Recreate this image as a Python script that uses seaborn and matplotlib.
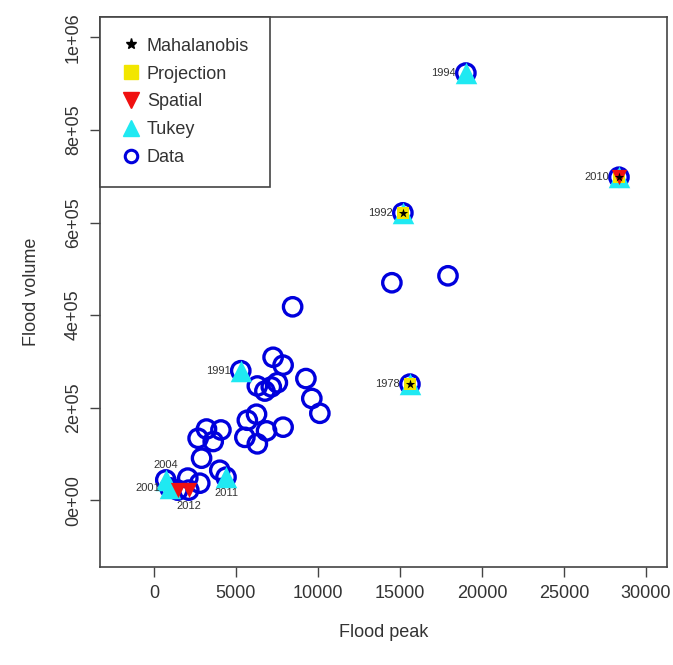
import numpy as np
import pandas as pd
import matplotlib
matplotlib.use('Agg')
import matplotlib.pyplot as plt
from matplotlib.lines import Line2D
from matplotlib.ticker import FuncFormatter
import seaborn as sns

# Du lieu doc tu hinh: dinh lu (peak) va tong luong lu (volume)
data_peak = [8460, 14510, 17930, 7270, 7880, 9270, 9630, 10120, 6310, 6770,
             7160, 7530, 6260, 5700, 6870, 7880, 5550, 6310, 3210, 4090,
             2700, 3620, 2910, 4020, 2070, 2800, 1460]
data_volume = [418000, 470000, 485000, 309000, 292000, 263000, 220000, 188000, 247000, 236000,
               245000, 254000, 186000, 173000, 150000, 158000, 136000, 122000, 154000, 152000,
               134000, 127000, 91000, 65000, 48000, 37000, 22000]

# Cac nam ngoai lai (co nhan)
out_years = ['1994', '2010', '1992', '1978', '1991', '2011', '2004', '2001', '2012']
out_peak = [19020, 28350, 15180, 15610, 5300, 4400, 730, 975, 2130]
out_volume = [923000, 698000, 621000, 251000, 280000, 50000, 44000, 27000, 22000]

# Nam ngoai lai theo tung phuong phap
mahalanobis_years = ['2010', '1992', '1978']
projection_years = ['2010', '1992', '1978']
spatial_years = ['2010', '2012']
tukey_years = ['1994', '2010', '1992', '1978', '1991', '2011', '2004', '2001']

x_ticks = [0, 5000, 10000, 15000, 20000, 25000, 30000]
y_ticks = [0, 200000, 400000, 600000, 800000, 1000000]

df_out = pd.DataFrame({'year': out_years, 'peak': out_peak, 'volume': out_volume})
df_all = pd.DataFrame({'peak': data_peak + out_peak, 'volume': data_volume + out_volume})
# diem spatial khong co nhan, nam sat 2012
df_spatial_extra = pd.DataFrame({'peak': [1460], 'volume': [22000]})

sns.set_theme(style='white')
plt.rcParams['font.family'] = ['Liberation Sans', 'DejaVu Sans']

mau_blue = '#0000DD'
mau_cyan = '#1FE9F2'
mau_yellow = '#F2E600'
mau_red = '#F01010'
mau_text = '#333333'
co_chu = 13

fig = plt.figure(figsize=(6.73, 6.65), dpi=100)
ax = fig.add_axes([0.1486, 0.1474, 0.8425, 0.827])

# Data: vong tron xanh
sns.scatterplot(data=df_all, x='peak', y='volume', marker='o', s=175,
                edgecolor=mau_blue, linewidth=2.4, ax=ax, zorder=2)
ax.collections[-1].set_facecolor('none')

def chon(years):
    return df_out[df_out['year'].isin(years)]

sns.scatterplot(data=chon(tukey_years), x='peak', y='volume', marker='^', s=240,
                color=mau_cyan, edgecolor=mau_cyan, linewidth=0, ax=ax, zorder=3)
sns.scatterplot(data=chon(projection_years), x='peak', y='volume', marker='s', s=85,
                color=mau_yellow, edgecolor=mau_yellow, linewidth=0, ax=ax, zorder=4)
sns.scatterplot(data=pd.concat([chon(spatial_years), df_spatial_extra]), x='peak', y='volume',
                marker='v', s=120, color=mau_red, edgecolor=mau_red, linewidth=0, ax=ax, zorder=5)
sns.scatterplot(data=chon(mahalanobis_years), x='peak', y='volume', marker='*', s=50,
                color='black', edgecolor='black', linewidth=0, ax=ax, zorder=6)

# Nhan nam
vi_tri = {'2004': (0, 7, 'center', 'bottom'), '2012': (0, -8, 'center', 'top'),
          '2011': (0, -8, 'center', 'top')}
for _, row in df_out.iterrows():
    dx, dy, ha, va = vi_tri.get(row['year'], (-7, 0, 'right', 'center'))
    ax.annotate(row['year'], (row['peak'], row['volume']), xytext=(dx, dy),
                textcoords='offset points', ha=ha, va=va, fontsize=8,
                color=mau_text, zorder=7)

ax.set_xlim(-3280, 31280)
ax.set_ylim(-144000, 1044000)
ax.set_xticks(x_ticks)
ax.set_yticks(y_ticks)
ax.yaxis.set_major_formatter(FuncFormatter(lambda v, p: f'{v:.0e}'))
ax.tick_params(axis='both', direction='out', length=7, width=1, color='#444444',
               labelsize=co_chu, labelcolor=mau_text, pad=6, bottom=True, left=True)
for lab in ax.get_yticklabels():
    lab.set_rotation(90)
    lab.set_va('center')

for sp in ax.spines.values():
    sp.set_color('#444444')
    sp.set_linewidth(1.2)

ax.set_xlabel('Flood peak', fontsize=co_chu, color=mau_text, labelpad=16)
ax.set_ylabel('Flood volume', fontsize=co_chu, color=mau_text, labelpad=18)

handles = [
    Line2D([], [], marker='*', color='black', linestyle='none', markersize=8),
    Line2D([], [], marker='s', color=mau_yellow, linestyle='none', markersize=10),
    Line2D([], [], marker='v', color=mau_red, linestyle='none', markersize=11),
    Line2D([], [], marker='^', color=mau_cyan, linestyle='none', markersize=11),
    Line2D([], [], marker='o', markerfacecolor='none', markeredgecolor=mau_blue,
           markeredgewidth=2.2, linestyle='none', markersize=9),
]
leg = ax.legend(handles, ['Mahalanobis', 'Projection', 'Spatial', 'Tukey', 'Data'],
                loc='upper left', borderaxespad=0, fancybox=False, framealpha=1,
                fontsize=co_chu, labelspacing=0.6, handletextpad=0.35, borderpad=1.15,
                handlelength=1.1)
leg.get_frame().set_edgecolor('#444444')
leg.get_frame().set_linewidth(1.2)
for t in leg.get_texts():
    t.set_color(mau_text)

plt.savefig('out.png', dpi=100)
plt.close()
